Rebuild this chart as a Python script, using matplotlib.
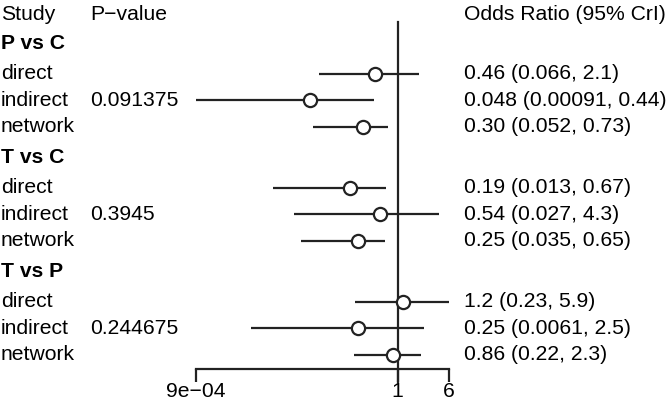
import numpy as np
import matplotlib.pyplot as plt
from matplotlib.transforms import blended_transform_factory

plt.rcParams['font.family'] = ['Liberation Sans', 'DejaVu Sans']

## Data
groups = ["P vs C", "T vs C", "T vs P"]
studies = ["direct", "indirect", "network"]
p_values = ["0.091375", "0.3945", "0.244675"]

odds = [[0.46, 0.048, 0.30],
        [0.19, 0.54, 0.25],
        [1.2, 0.25, 0.86]]
lower = [[0.066, 0.00091, 0.052],
         [0.013, 0.027, 0.035],
         [0.23, 0.0061, 0.22]]
upper = [[2.1, 0.44, 0.73],
         [0.67, 4.3, 0.65],
         [5.9, 2.5, 2.3]]
or_labels = [["0.46 (0.066, 2.1)", "0.048 (0.00091, 0.44)", "0.30 (0.052, 0.73)"],
             ["0.19 (0.013, 0.67)", "0.54 (0.027, 4.3)", "0.25 (0.035, 0.65)"],
             ["1.2 (0.23, 5.9)", "0.25 (0.0061, 2.5)", "0.86 (0.22, 2.3)"]]

x_ticks = [9e-4, 1, 6]
x_ticklabels = ["9e\u221204", "1", "6"]

## Figure
W, H = 669, 404
fig = plt.figure(figsize=(W / 100, H / 100), dpi=100)
ax = fig.add_axes([196 / W, 0, (449 - 196) / W, 1])
ax.set_xscale("log")
ax.set_xlim(9e-4, 6)
row_px = 26.5
ax.set_ylim((H - 14) / row_px, -14 / row_px)
    # y units are rows; header sits at 0.

fs = 15.2
tr = blended_transform_factory(fig.transFigure, ax.transData)
col_study, col_p, col_or = 1 / W, 90 / W, 464 / W

ax.text(col_study, 0, "Study", transform=tr, fontsize=fs, va="center")
ax.text(col_p, 0, "P\u2212value", transform=tr, fontsize=fs, va="center")
ax.text(col_or, 0, "Odds Ratio (95% CrI)", transform=tr, fontsize=fs, va="center")

y = 1.13
for g in range(3):
    ax.text(col_study, y, groups[g], transform=tr, fontsize=fs,
            fontweight="bold", va="center")
    for i in range(3):
        yi = y + 1.12 + i
        ax.text(col_study, yi, studies[i], transform=tr, fontsize=fs, va="center")
        if i == 1:
            ax.text(col_p, yi, p_values[g], transform=tr, fontsize=fs, va="center")
        ax.text(col_or, yi, or_labels[g][i], transform=tr, fontsize=fs, va="center")
        ax.plot([lower[g][i], upper[g][i]], [yi, yi], color="#222222", lw=1.6,
                clip_on=False, solid_capstyle="butt")
        ax.plot(odds[g][i], yi, "o", ms=9.5, mfc="white", mec="#222222", mew=1.6,
                clip_on=False, zorder=3)
    y += 4.3

axis_y = 13.4
ax.plot([1, 1], [0.3, axis_y + 13 / row_px], color="#222222", lw=1.6,
        clip_on=False, zorder=1)

# bottom axis
for s in ["top", "left", "right"]:
    ax.spines[s].set_visible(False)
ax.spines["bottom"].set_position(("data", axis_y))
ax.spines["bottom"].set_bounds(9e-4, 6)
ax.spines["bottom"].set_linewidth(1.6)
ax.spines["bottom"].set_color("#222222")
ax.set_xticks(x_ticks)
ax.set_xticklabels(x_ticklabels, fontsize=fs)
ax.xaxis.set_minor_locator(plt.NullLocator())
ax.tick_params(axis="x", length=9.5, width=1.6, color="#222222", pad=0)
ax.set_yticks([])
ax.patch.set_visible(False)

fig.savefig("out.png", dpi=100)
